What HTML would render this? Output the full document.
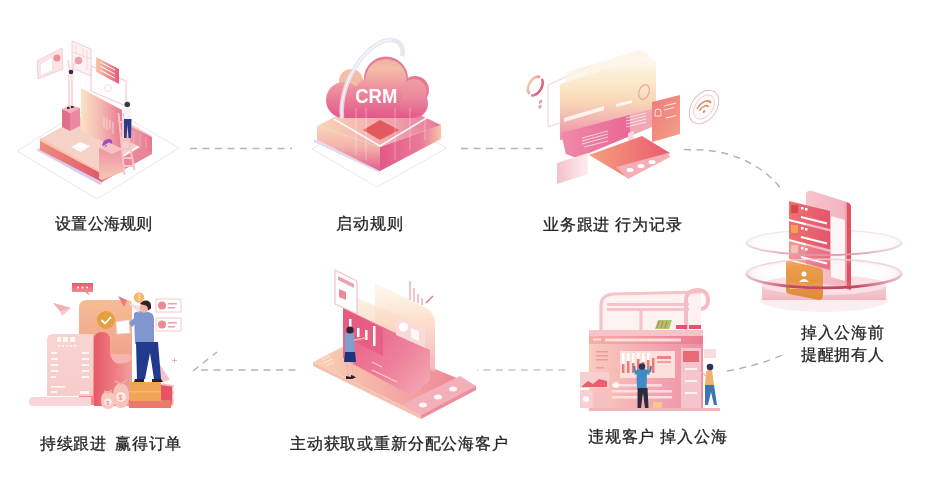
<!DOCTYPE html>
<html><head><meta charset="utf-8">
<style>
html,body{margin:0;padding:0;background:#fff;}
body{width:939px;height:502px;position:relative;overflow:hidden;font-family:"Liberation Sans",sans-serif;}
svg{position:absolute;left:0;top:0;filter:blur(0.45px);}
.t{position:absolute;font-size:16px;line-height:21.8px;color:#222;white-space:nowrap;letter-spacing:0.7px;-webkit-text-stroke:0.3px #222;opacity:0.99;}
</style></head><body>
<svg width="939" height="502" viewBox="0 0 939 502">
<defs>
<linearGradient id="pk1" x1="0" y1="0" x2="1" y2="0"><stop offset="0" stop-color="#fbe3c6"/><stop offset="0.5" stop-color="#f3b6b0"/><stop offset="1" stop-color="#e87890"/></linearGradient>
<linearGradient id="pk2" x1="0" y1="0" x2="1" y2="0"><stop offset="0" stop-color="#f7c9a6"/><stop offset="1" stop-color="#e65a7c"/></linearGradient>
<linearGradient id="red1" x1="0" y1="0" x2="1" y2="0"><stop offset="0" stop-color="#ee8a7c"/><stop offset="1" stop-color="#e0586a"/></linearGradient>
<linearGradient id="pkv" x1="0" y1="0" x2="0" y2="1"><stop offset="0" stop-color="#ec8aa2"/><stop offset="1" stop-color="#f8c8b4"/></linearGradient>
<linearGradient id="wall1" x1="0" y1="0" x2="1" y2="0"><stop offset="0" stop-color="#f0a0ae"/><stop offset="1" stop-color="#e87890"/></linearGradient>
<linearGradient id="cl" gradientUnits="userSpaceOnUse" x1="0" y1="56" x2="0" y2="118"><stop offset="0" stop-color="#f0a6a2"/><stop offset="0.2" stop-color="#f5bea8"/><stop offset="0.55" stop-color="#ee8c9c"/><stop offset="1" stop-color="#e3588a"/></linearGradient>
<linearGradient id="clr" gradientUnits="userSpaceOnUse" x1="0" y1="76" x2="0" y2="118"><stop offset="0" stop-color="#f0a0a4"/><stop offset="0.5" stop-color="#ec8a9e"/><stop offset="1" stop-color="#e3588a"/></linearGradient>
<linearGradient id="pt2" x1="0" y1="0" x2="1" y2="0"><stop offset="0" stop-color="#f9d6b6"/><stop offset="0.5" stop-color="#f2aeb0"/><stop offset="1" stop-color="#e9789a"/></linearGradient>
<linearGradient id="ps2" x1="0" y1="0" x2="0" y2="1"><stop offset="0" stop-color="#f8d4b8"/><stop offset="0.45" stop-color="#f3b4ac"/><stop offset="1" stop-color="#e45e8a"/></linearGradient>
<linearGradient id="pr2" x1="0" y1="0" x2="1" y2="0"><stop offset="0" stop-color="#e25887"/><stop offset="0.7" stop-color="#ea7c98"/><stop offset="1" stop-color="#f6c4a8"/></linearGradient>
<linearGradient id="sc3" gradientUnits="userSpaceOnUse" x1="0" y1="55" x2="0" y2="150"><stop offset="0" stop-color="#fefaf4"/><stop offset="0.3" stop-color="#fbe8c8"/><stop offset="0.5" stop-color="#f8d6b6"/><stop offset="0.72" stop-color="#f2aeb0"/><stop offset="1" stop-color="#ea7a9a"/></linearGradient>
<linearGradient id="bd3" x1="0" y1="0" x2="1" y2="0"><stop offset="0" stop-color="#f08aa8"/><stop offset="1" stop-color="#e86896"/></linearGradient>
<linearGradient id="kb3" x1="0" y1="0" x2="1" y2="0"><stop offset="0" stop-color="#f4a080"/><stop offset="1" stop-color="#ea5a6e"/></linearGradient>
<linearGradient id="cd3" x1="0" y1="0" x2="1" y2="1"><stop offset="0" stop-color="#f07a78"/><stop offset="1" stop-color="#f4a088"/></linearGradient>
<linearGradient id="sp3" x1="0" y1="0" x2="1" y2="0"><stop offset="0" stop-color="#f4c0cc"/><stop offset="1" stop-color="#fdeef0"/></linearGradient>
<linearGradient id="ph4" x1="0" y1="0" x2="1" y2="0"><stop offset="0" stop-color="#f6c4cc"/><stop offset="0.85" stop-color="#f2b4c0"/><stop offset="1" stop-color="#e2566a"/></linearGradient>
<linearGradient id="cd4" x1="0" y1="0" x2="1" y2="0"><stop offset="0" stop-color="#ee7070"/><stop offset="1" stop-color="#e4566e"/></linearGradient>
<linearGradient id="or4" x1="0" y1="0" x2="0" y2="1"><stop offset="0" stop-color="#eda050"/><stop offset="1" stop-color="#e08a3a"/></linearGradient>
<linearGradient id="bs4" x1="0" y1="0" x2="0" y2="1"><stop offset="0" stop-color="#f7d2d6"/><stop offset="1" stop-color="#f0b8c0"/></linearGradient>
<radialGradient id="rg4" cx="0.5" cy="0.5" r="0.5"><stop offset="0.6" stop-color="#fff" stop-opacity="0"/><stop offset="0.92" stop-color="#f3c4cc" stop-opacity="0.6"/><stop offset="1" stop-color="#e2788c"/></radialGradient>
<linearGradient id="ph5" x1="0" y1="0" x2="0" y2="1"><stop offset="0" stop-color="#f5bc94"/><stop offset="0.5" stop-color="#f2a48c"/><stop offset="1" stop-color="#ee8a8c"/></linearGradient>
<linearGradient id="rs5" x1="0" y1="0" x2="1" y2="0"><stop offset="0" stop-color="#e65a68"/><stop offset="0.5" stop-color="#ee7a80"/><stop offset="1" stop-color="#f0a0a0"/></linearGradient>
<linearGradient id="rc5" x1="0" y1="0" x2="0" y2="1"><stop offset="0" stop-color="#f8d4d0"/><stop offset="1" stop-color="#f6ccca"/></linearGradient>
<linearGradient id="cb5" x1="0" y1="0" x2="0" y2="1"><stop offset="0" stop-color="#e85a6c"/><stop offset="1" stop-color="#f4a0a8"/></linearGradient>
<linearGradient id="tb6" x1="0" y1="0" x2="1" y2="0"><stop offset="0" stop-color="#f9d2b4"/><stop offset="0.5" stop-color="#f4aaa4"/><stop offset="1" stop-color="#ec7c8e"/></linearGradient>
<linearGradient id="fp6" gradientUnits="userSpaceOnUse" x1="0" y1="280" x2="0" y2="360"><stop offset="0" stop-color="#fdf2e4" stop-opacity="0.6"/><stop offset="0.5" stop-color="#fbdcc4"/><stop offset="1" stop-color="#f4b4b4"/></linearGradient>
<linearGradient id="ps6" gradientUnits="userSpaceOnUse" x1="342" y1="310" x2="430" y2="390"><stop offset="0" stop-color="#e65880"/><stop offset="0.6" stop-color="#ee7e98"/><stop offset="1" stop-color="#f4aab4"/></linearGradient>
<linearGradient id="bd7" x1="0" y1="0" x2="1" y2="0"><stop offset="0" stop-color="#f8ccbc"/><stop offset="0.5" stop-color="#f4aab4"/><stop offset="1" stop-color="#ee90a4"/></linearGradient>
<linearGradient id="hd7" x1="0" y1="0" x2="1" y2="0"><stop offset="0" stop-color="#f6b0a8"/><stop offset="1" stop-color="#ec7c96"/></linearGradient>
<linearGradient id="rgI3" x1="0" y1="0" x2="1" y2="0"><stop offset="0" stop-color="#f2c6a4"/><stop offset="0.55" stop-color="#e48a98"/><stop offset="1" stop-color="#d65a80"/></linearGradient>
<linearGradient id="rs4u" x1="0" y1="0" x2="1" y2="0"><stop offset="0" stop-color="#e8dde2"/><stop offset="0.35" stop-color="#dc9aaa"/><stop offset="0.65" stop-color="#dc9aaa"/><stop offset="1" stop-color="#e8dde2"/></linearGradient>
<linearGradient id="rs4l" x1="0" y1="0" x2="1" y2="0"><stop offset="0" stop-color="#e6c8d0"/><stop offset="0.3" stop-color="#c44664"/><stop offset="0.7" stop-color="#c44664"/><stop offset="1" stop-color="#e6c8d0"/></linearGradient>
</defs>
<g fill="none" stroke="#b4b4b4" stroke-width="1.5" stroke-dasharray="7 5.5">
<path d="M190 148.5H292"/>
<path d="M461 148.5H545"/>

<path d="M201 370H296"/>
<path d="M193 371L217 352"/>
<path d="M477 370H566" stroke="#c6c6c6" stroke-dashoffset="6.1"/>
<path d="M684 149.5 L702 150 C728 151 762 163 781 189"/>
<path d="M727 371 C745 368 768 362 784 354"/>
</g>
<g id="i1">
<polygon points="17,151 98,101 179,148 97,199" fill="#fff" stroke="#eee4e8" stroke-width="1"/>
<polygon points="36,150 100,185 104,181 40,148" fill="#d9ccef"/>
<polygon points="40,139 100,106 152,136 101,170" fill="#f5d2c8"/>
<polygon points="40,140 102,173 102,182 40,150" fill="url(#red1)"/>
<polygon points="40,138 102,171 102,174 40,141" fill="#f8c4aa"/>
<polygon points="101,170 152,140 152,154 102,182" fill="#e9869a"/>
<polygon points="126,124 152,137 152,153 126,140" fill="url(#wall1)"/>
<g stroke="#f6b8c4" stroke-width="0.8" opacity="0.8"><path d="M134 131v12M140 134v12M146 137v11"/></g>
<polygon points="71,147 80,142 90,146 81,152" fill="#fff" opacity="0.9"/>
<polygon points="81,88 122,110 122,152 81,130" fill="url(#pk1)"/>
<g stroke="#fff" stroke-width="0.8" opacity="0.7"><path d="M104 117v10M107 118v12M110 120v9M113 122v12"/></g>
<polygon points="99,148 110,143 123,149 123,172 101,180 99,178" fill="url(#pkv)"/>
<polygon points="99,148 110,143 123,149 112,154" fill="#f6c2c4"/>
<path d="M102 145q2 -7 8 -6q3 1 2 5l-4 -1l-2 4z" fill="#a24cb8"/><path d="M104 146l5 -3l4 2" stroke="#f2c4cc" stroke-width="1" fill="none"/>
<polygon points="62,109 71,105 80,108 70,113" fill="#f4b0bc"/>
<polygon points="62,109 70,113 70,131 62,127" fill="#e26f8a"/>
<polygon points="70,113 80,108 80,126 70,131" fill="#ea8aa0"/>
<rect x="67" y="107" width="2.5" height="2" fill="#3a2a3a"/><rect x="71" y="106" width="2.5" height="2" fill="#3a2a3a"/>
<polygon points="91,66 126,81 126,106 91,91" fill="#fff" stroke="#f2c2c8" stroke-width="1"/>
<circle cx="108" cy="88" r="3.5" fill="none" stroke="#f4d0d4" stroke-width="0.8"/>
<polygon points="96,57 119,69 119,84 96,72" fill="url(#pk2)"/>
<g stroke="#fff" stroke-width="1"><path d="M100 62l15 8M100 66l15 8M100 70l15 8"/></g>
<polygon points="37,61 62,48 63,69 38,79" fill="#fbe4e4" stroke="#f4c6cc" stroke-width="0.8"/>
<polygon points="41,64 52,58 52,70 41,75" fill="#fff"/>
<circle cx="57" cy="58" r="3.5" fill="#ef8e98"/>
<polygon points="72,41 91,49 91,76 72,68" fill="#fdf2f2" stroke="#f3c2c8" stroke-width="0.8"/>
<circle cx="78.5" cy="60.5" r="3.8" fill="#f0a0aa"/><g stroke="#f6cdd2" stroke-width="0.8"><path d="M76 45v9M83 48v10M87 50v20M73 52l18 7"/></g>
<g stroke="#f6d2d4" stroke-width="1.6" fill="none"><path d="M68 60l2 14M74 63l-2 11"/><path d="M69 80v26M72 80v26"/></g>
<rect x="67.5" y="74" width="6" height="8" rx="2" fill="#fbe6e6"/>
<circle cx="71" cy="72" r="2.3" fill="#3b2b45"/>
<g stroke="#f6c4c8" stroke-width="2" fill="none"><path d="M118.5 113l6 62M123.5 113l11 57"/><path d="M119.5 122h6M120.5 131h7M121.5 140h8M122.5 149h8.5M123.5 158h9M124 166h9.5"/></g>
<circle cx="127.3" cy="104.5" r="2.8" fill="#3b3550"/>
<rect x="124" y="107.5" width="7.5" height="11.5" rx="1.5" fill="#f6f2f8"/>
<path d="M124 119h7.5l-0.5 19h-2.5l-1 -14l-1 14h-2.5z" fill="#2c3a8c"/>
</g>
<g id="i2">
<polygon points="312,149 378,112 447,148 377,187" fill="#fff" stroke="#eee6ea" stroke-width="1"/>
<polygon points="314,139 380,170 380,173 314,142" fill="#e2d6f0"/>
<polygon points="317,126 380,147 380,171 317,140" fill="url(#ps2)"/>
<polygon points="380,147 441,125 441,139 380,171" fill="url(#pr2)"/>
<polygon points="317,126 378,95 441,125 380,147" fill="url(#pt2)"/>
<polyline points="334,119 380,146 428,117" fill="none" stroke="#fff" stroke-width="1.6" opacity="0.9"/>
<polygon points="363,130 380,120 399,130 380,140" fill="#e25a5e"/>
<g fill="#e6789a">
<circle cx="386" cy="78.5" r="22"/>
<circle cx="415" cy="90" r="14"/>
<circle cx="414" cy="104" r="14"/>
</g>
<g fill="url(#cl)">
<circle cx="351" cy="81" r="12" fill="#f4bea6"/>
<circle cx="386" cy="79.5" r="20.5"/>
<circle cx="366" cy="88" r="9"/>
<rect x="344" y="93" width="69" height="25"/>
<rect x="352" y="86" width="48" height="20"/>
<circle cx="344" cy="100" r="18"/>
<circle cx="414" cy="91.5" r="12.5" fill="url(#clr)"/>
<circle cx="413" cy="104" r="13.5" fill="url(#clr)"/>
</g>
<path d="M342 118 C338 80 370 38 392 40 C402 41 404 50 402 56" fill="none" stroke="#e6e2ee" stroke-width="4.5" opacity="0.85"/>
<path d="M342 118 C338 80 370 38 392 40" fill="none" stroke="#fff" stroke-width="1.5" opacity="0.6"/>
<text x="355.3" y="103.2" font-family="Liberation Sans" font-weight="bold" font-size="20.5" textLength="42" lengthAdjust="spacingAndGlyphs" fill="#fff">CRM</text>
<g stroke="#fff" stroke-width="0.8" opacity="0.45"><path d="M356 108v47M366 108v52M395 108v52M410 108v42M425 112v28"/></g>
</g>
<g id="i3">
<ellipse cx="535.3" cy="86" rx="6.4" ry="10" transform="rotate(28 535.3 86)" fill="none" stroke="url(#rgI3)" stroke-width="2.6" stroke-dasharray="12.2 2.2 24.4 2.2 12.2"/>
<path d="M539.5 101l2 -1v2.5l-2 1zM539 106l2 -1v2.5l-2 1z" fill="#d8a4ac" stroke="#d8a4ac" stroke-width="1"/>
<polygon points="548,85 590,66 590,112 548,127" fill="#fff" stroke="#f3cdd2" stroke-width="1"/>
<polygon points="566,72 640,50 648,54 648,70 566,92" fill="#fdf2e4" opacity="0.8"/>
<polygon points="560,84 648,56 656,62 656,124 560,140" fill="url(#sc3)"/>
<polygon points="564,118 604,106 604,110 564,122" fill="#fff" opacity="0.8"/>
<polygon points="616,104 632,100 632,103 616,107" fill="#fff" opacity="0.8"/>
<ellipse cx="644" cy="92" rx="5" ry="7.5" transform="rotate(20 644 92)" fill="none" stroke="#eeaaa4" stroke-width="1.3"/>
<polygon points="561,133 652,109 652,127 577,158 566,154" fill="#f2a8b4"/>
<polygon points="561,133 630,115 630,136 577,158 566,154" fill="url(#bd3)"/>
<g stroke="#fff" stroke-width="0.9" opacity="0.75"><path d="M582 138l26-7M582 141l26-7M582 144l26-7M584 147l24-6"/><path d="M626 118l20-5M626 121l20-5M626 124l20-5M626 127l20-5"/></g>
<polygon points="628,133 634,131 634,140 628,142" fill="#f8d8dc"/>
<polygon points="557,163 588,153 588,174 557,184" fill="url(#sp3)"/>
<polygon points="589,155 642,136 670,153 626,177" fill="url(#kb3)"/>
<polygon points="616,167 668,153 670,157 628,179" fill="#f5aeb6"/>
<g fill="#fff"><ellipse cx="630" cy="170" rx="3.5" ry="2"/><ellipse cx="641" cy="166" rx="3.5" ry="2"/><ellipse cx="652" cy="162" rx="3.5" ry="2"/></g>
<polygon points="652,102 680,95 680,134 652,142" fill="url(#cd3)"/>
<path d="M655 112a3 3 0 0 1 6 0v4h-6z" fill="none" stroke="#fff" stroke-width="1" opacity="0.8"/>
<g stroke="#fff" stroke-width="1.2" opacity="0.8"><path d="M664 106l12-3M664 110l10-2.5M666 118l10-2.5"/></g>
<g transform="rotate(-55 704 107)">
<ellipse cx="704" cy="107" rx="18.5" ry="12.5" fill="none" stroke="#e4bcbc" stroke-width="1"/>
<ellipse cx="704" cy="107" rx="13.5" ry="8.8" fill="#fffafa" stroke="#ecc8c8" stroke-width="0.8"/>
</g>
<g transform="translate(704 107) skewY(-25) translate(-704 -107)">
<path d="M697 106a8 8 0 0 1 14 0M699.5 109a5 5 0 0 1 9 0" fill="none" stroke="#d88a6e" stroke-width="1.6"/>
<circle cx="704" cy="111.5" r="1.3" fill="#d88a6e"/>
</g>
</g>
<g id="i4">
<ellipse cx="824" cy="300" rx="64" ry="12" fill="#fbeef0"/>
<rect x="762" y="285" width="124" height="15" fill="url(#bs4)"/>
<ellipse cx="824" cy="285" rx="62" ry="10" fill="#f9e0e3"/>
<ellipse cx="824" cy="242.5" rx="77.5" ry="12.7" fill="url(#rg4)" opacity="0.15"/>
<path d="M746.5 242.5a77.5 12.7 0 0 1 155 0" fill="none" stroke="#f2e2e6" stroke-width="1"/>
<path d="M806 193q2 -3 6 -2l35 11q4 1 4 5v82l-45 -8z" fill="url(#ph4)"/>
<path d="M847 203q4 1 4 5v82l-4 -1z" fill="#e0505e"/>
<polygon points="831,216 845,220 845,281 831,277" fill="#fff" opacity="0.85"/>
<polygon points="789,201 830,211 830,229 789,219" fill="url(#cd4)"/>
<polygon points="789,221 830,231.5 830,249.5 789,239" fill="url(#cd4)"/>
<polygon points="789,241 830,252 830,270 789,259" fill="url(#cd4)" opacity="0.75"/>
<rect x="791" y="205" width="7" height="8" fill="#d84848"/><rect x="791" y="225" width="7" height="8" fill="#f0a050"/><rect x="791" y="245" width="7" height="8" fill="#f6c0b8"/>
<g stroke="#fff" stroke-width="2"><path d="M801 217l26 6.5M801 237l26 6.5M801 257l26 6.5"/></g>
<g fill="#fff"><rect x="801" y="207" width="2.5" height="2.5"/><rect x="805" y="208" width="2.5" height="2.5"/><rect x="801" y="227" width="2.5" height="2.5"/><rect x="805" y="228" width="2.5" height="2.5"/><rect x="801" y="247" width="2.5" height="2.5"/><rect x="805" y="248" width="2.5" height="2.5"/></g>
<path d="M746.5 242.5a77.5 12.7 0 0 0 155 0" fill="none" stroke="url(#rs4u)" stroke-width="1.8"/>
<path d="M786 263 q0 -3 4 -2 l30 7 q3 1 3 4 v22 q0 6 -4 6 l-30 -6 q-3 -1 -3 -4z" fill="url(#or4)"/>
<circle cx="804" cy="274" r="2.5" fill="#fff"/><path d="M799 282q5 -6 10 0z" fill="#fff"/>
<rect x="790" y="286" width="22" height="3" fill="#fbd7b0" opacity="0.8"/>
<ellipse cx="824" cy="273.5" rx="77.5" ry="14.3" fill="url(#rg4)" opacity="0.25"/>
<path d="M746.5 273.5a77.5 14.3 0 0 0 155 0" fill="none" stroke="url(#rs4l)" stroke-width="2.7"/>
<path d="M746.5 273.5a77.5 14.3 0 0 1 155 0" fill="none" stroke="#eed2d8" stroke-width="1.2"/>
</g>
<g id="i5">
<path d="M72 283h21v9h-5l2 4l-5 -4h-13z" fill="url(#cb5)"/>
<g fill="#fff"><circle cx="78" cy="287.5" r="1"/><circle cx="82.5" cy="287.5" r="1"/><circle cx="87" cy="287.5" r="1"/></g>
<path d="M53 303l18 5l-9 8l-2 -5z" fill="#f6c8cc"/>
<path d="M53 303l7 8l11 -3z" fill="#f0b0b8"/>
<path d="M87 300h40q5 0 5 5v100h-53v-97q0 -8 8 -8z" fill="url(#ph5)"/>
<circle cx="106" cy="320" r="9" fill="#e4a03c"/>
<path d="M101.5 320l3.5 3.5l6 -6.5" fill="none" stroke="#fff" stroke-width="1.8"/>
<path d="M94 340q0 -8 8 -8q8 0 8 8v14h18q4 0 4 5v47h-38z" fill="url(#rs5)"/>
<path d="M110 354h18q4 0 4 5q-6 6 -16 4q-4 -2 -6 -9z" fill="#f6b4b0"/>
<path d="M47 340q0 -6 6 -6h40v62h-46z" fill="url(#rc5)"/>
<g fill="#fff" opacity="0.85"><rect x="57" y="337" width="4" height="5"/><rect x="63" y="337" width="5" height="5"/><rect x="70" y="337" width="5" height="5"/><rect x="58" y="345" width="2" height="1.5"/><rect x="62" y="345" width="2" height="1.5"/><rect x="66" y="345" width="2" height="1.5"/><rect x="70" y="345" width="2" height="1.5"/><rect x="74" y="345" width="2" height="1.5"/><rect x="51" y="352" width="6" height="2"/><rect x="82" y="352" width="7" height="2"/><rect x="51" y="358" width="7" height="2"/><rect x="82" y="358" width="7" height="2"/><rect x="51" y="364" width="7" height="2"/><rect x="82" y="364" width="7" height="2"/><rect x="51" y="370" width="7" height="2"/><rect x="82" y="370" width="7" height="2"/><rect x="51" y="376" width="5" height="2"/><rect x="82" y="376" width="7" height="2"/><rect x="51" y="386" width="14" height="1.5"/><rect x="51" y="391" width="6" height="2"/><rect x="80" y="391" width="9" height="3"/></g>
<path d="M33 397h58v9h-58q-4 0 -4 -4.5q0 -4.5 4 -4.5z" fill="#f8d6d6"/>
<path d="M152 352l18 28l-13 3z" fill="#f6c4c8"/>
<path d="M158 383l16 2l-1 4l1 4l-1 4l1 4l-1 5l-15 -2z" fill="#f4c0c6"/>
<path d="M160 385l12 1.5v18l-12 -1.5z" fill="#e65466"/>
<rect x="129" y="400" width="42" height="8" fill="#ec7a6c"/>
<rect x="130" y="382" width="31" height="19" fill="#f0a456"/>
<rect x="130" y="391" width="31" height="1.5" fill="#f6bc78" opacity="0.8"/>
<path d="M101 400q0 -8 7 -9q7 1 7 9q0 9 -7 9q-7 0 -7 -9z" fill="#f7cac0"/>
<path d="M104 391l4 2l4 -3" stroke="#f2b0a8" stroke-width="1.5" fill="none"/>
<path d="M113 396q0 -12 8 -13q8 1 8 13q0 12 -8 12q-8 0 -8 -12z" fill="#f6c2ba"/>
<path d="M115 381l6 3l6 -4" stroke="#f0aaa2" stroke-width="1.6" fill="none"/>
<circle cx="121" cy="397" r="5" fill="#fde8e6"/><text x="118.6" y="400" font-family="Liberation Sans" font-size="7" fill="#e27888">$</text>
<circle cx="108" cy="402" r="3.8" fill="#fde8e6"/><text x="106.2" y="404.5" font-family="Liberation Sans" font-size="5.5" fill="#e27888">$</text>
<path d="M134 313q5 -3 11 -2l6 2q3 2 3 6v25h-19z" fill="#8096cf"/>
<path d="M136 342h22l3 37h-7l-4 -26l-5 26h-8z" fill="#213a8e"/>
<path d="M135 379h9v3h-10zM152 379h9l2 3h-11z" fill="#2a1f2e"/>
<circle cx="144" cy="308" r="4.8" fill="#f2b4a4"/>
<path d="M140 304q2 -4 7 -3.5q5 1 4 8l-3 2q0 -4 -2 -5q-3 -1 -6 -1.5z" fill="#3a2222"/>
<path d="M128 303l12 3l-1 7z" fill="#f6dede"/><path d="M118 296l9 4l-3 7z" fill="#ea7a8c"/>

<circle cx="139" cy="297.5" r="5.2" fill="#f4b870"/><path d="M138 295h2.5M138 297.5h2.5M138 300h2.5" stroke="#fff" stroke-width="0.8"/>
<polygon points="116,322 129,320 130,333 117,334" fill="#fff" stroke="#f2d8d8" stroke-width="0.6"/>
<path d="M129 323l6 -6l3 4l-6 6z" fill="#7f96d4"/>
<g><rect x="156" y="299" width="25" height="13" fill="#fff" stroke="#f4c8cc" stroke-width="1"/><circle cx="162" cy="305.5" r="4" fill="#f08892"/><rect x="168" y="303" width="9" height="1.5" fill="#f2a0a8"/><rect x="168" y="307" width="7" height="1.5" fill="#f2a0a8"/></g>
<g><rect x="156" y="318" width="25" height="13" fill="#fff" stroke="#f4c8cc" stroke-width="1"/><circle cx="162" cy="324.5" r="4" fill="#f08892"/><rect x="168" y="322" width="9" height="1.5" fill="#f2a0a8"/><rect x="168" y="326" width="7" height="1.5" fill="#f2a0a8"/></g>
<path d="M174.5 358v5M172 360.5h5" stroke="#e8a0b0" stroke-width="0.8"/>
</g>
<g id="i6">
<polygon points="313,362 360,338 476,386 421,415" fill="url(#tb6)"/>
<polygon points="313,362 421,415 421,419 313,366" fill="#f6c0b0"/>
<polygon points="421,415 476,386 476,390 421,419" fill="#ee8c9a"/>
<polygon points="401,405 460,376 476,386 421,415" fill="#f4b0b8"/>
<g fill="#fff" opacity="0.9"><ellipse cx="423" cy="405" rx="4" ry="2.5"/><ellipse cx="438" cy="397" rx="4" ry="2.5"/><ellipse cx="453" cy="389" rx="4" ry="2.5"/></g>
<g stroke="#fff" stroke-width="1" opacity="0.6"><path d="M322 360l8 -4M324 363l8 -4M326 366l8 -4"/></g>
<polygon points="375,283 430,310 435,320 435,372 375,345" fill="url(#fp6)" opacity="0.85"/>
<polygon points="352,296 410,320 410,368 352,342" fill="url(#fp6)" opacity="0.8"/>
<polygon points="343,308 385,328 430,350 430,380 412,396 353,364 343,358" fill="url(#ps6)"/>
<polygon points="345,310 383,329 383,356 345,337" fill="#e45a80" opacity="0.7"/>
<g fill="#fff"><rect x="349" y="319" width="2.5" height="9"/><rect x="357" y="328" width="2.5" height="9"/><rect x="365" y="330" width="2.5" height="10"/><rect x="373" y="326" width="2.5" height="20"/></g>
<g stroke="#fff" stroke-width="1" opacity="0.7"><path d="M372 362l10 5M372 370l25 12"/></g>
<polygon points="396,316 425,329 425,348 396,335" fill="#f9dcdc" opacity="0.9"/>
<circle cx="403.5" cy="327" r="4.5" fill="#fff"/><polygon points="411,328 419,331.5 419,341 411,337.5" fill="#fff" opacity="0.85"/>
<polygon points="335,270 357,281 357,314 335,304" fill="#fff" stroke="#f2b4c0" stroke-width="1"/>
<polygon points="338,276 354,284 354,288 338,280" fill="#f0a0b0"/>
<polygon points="339,289 346,292 346,300 339,297" fill="#ee8a9c"/>
<g stroke="#e88698" stroke-width="1"><path d="M410 281v19M414 288v14M418 294v9M422 298v7"/><path d="M426 303l7 -7" stroke="#ee7890" stroke-width="1.6"/></g>
<path d="M345 335q2 -4 6 -3l3 2l1 18h-10z" fill="#7f9ed0"/>
<path d="M354 340l12 -2" stroke="#f2b4a4" stroke-width="1.5"/>
<path d="M345 352h10l1 10h-12z" fill="#1f3377"/>
<path d="M347 362l1 14M352 362l1 14" stroke="#f2b4a4" stroke-width="1.6"/>
<path d="M346 376l5 1l3 2h-8zM351 375l3 1l2 2h-5z" fill="#2a2234"/>
<circle cx="350" cy="330" r="3.6" fill="#2b2438"/>
</g>
<g id="i7">
<path d="M601 330V306q0 -11 12 -12l88 -2v38z" fill="#fdf1f2"/>
<g fill="none" stroke="#f5c4ca" stroke-width="3.2">
<path d="M601 330V306q0 -11 12 -12l88 -2"/>
<path d="M607 304.5h82M607 309.5h82"/>
<path d="M641 311v19"/>
</g>
<path d="M686 330V300q0 -9 11 -10q11 0 11 10q0 8 -7 9" fill="none" stroke="#f4bcc4" stroke-width="4"/>
<polygon points="658,320 672,320 669,329 655,329" fill="#a8c86a"/>
<path d="M659 321l-2 7M663 321l-2 7M667 321l-2 7" stroke="#e86068" stroke-width="1"/>
<rect x="676" y="325" width="11" height="4" fill="#e0566a"/><rect x="689" y="325" width="12" height="4" fill="#e0566a"/>
<rect x="589" y="330" width="114" height="80" fill="url(#bd7)"/>
<rect x="589" y="330" width="114" height="6" fill="#f6c4c8"/>
<rect x="589" y="336" width="114" height="8" fill="url(#hd7)"/>
<rect x="605" y="338.5" width="76" height="3" fill="#fde6e0" opacity="0.9"/>
<rect x="593" y="338.5" width="8" height="2" fill="#fde6e0" opacity="0.9"/>
<g fill="#f08a8c" opacity="0.7"><rect x="596" y="351" width="12" height="1.5"/><rect x="596" y="355" width="12" height="1.5"/><rect x="596" y="359" width="12" height="1.5"/><rect x="596" y="367" width="8" height="1.5"/></g>
<rect x="620" y="351" width="55" height="27" fill="#fbe0dc"/>
<g fill="#fff"><rect x="622" y="353" width="2.5" height="16"/><rect x="627" y="353" width="2.5" height="16"/><rect x="632" y="353" width="2.5" height="16"/><rect x="637" y="353" width="2.5" height="16"/><rect x="642" y="353" width="2.5" height="16"/><rect x="647" y="353" width="2.5" height="16"/></g>
<g fill="#ee7a6e"><rect x="622" y="364" width="2.5" height="9"/><rect x="627" y="361" width="2.5" height="12"/><rect x="632" y="363" width="2.5" height="10"/><rect x="637" y="359" width="2.5" height="14"/><rect x="642" y="362" width="2.5" height="11"/><rect x="647" y="360" width="2.5" height="13"/><rect x="652" y="358" width="2.5" height="15"/></g>
<rect x="657" y="356" width="14" height="3" fill="#ec8088"/><rect x="657" y="361" width="14" height="2" fill="#f0a0a4"/>
<g fill="#fde6e6" opacity="0.9"><rect x="612" y="384" width="50" height="2.5"/><rect x="612" y="390" width="60" height="2.5"/><rect x="612" y="396" width="60" height="2.5"/></g>
<circle cx="616" cy="385" r="3" fill="#fff" opacity="0.8"/>
<rect x="681" y="348" width="20" height="60" fill="#f6c4cc"/>
<rect x="683" y="351" width="16" height="11" fill="#e86a76"/>
<g fill="#fff" opacity="0.8"><rect x="685" y="368" width="12" height="2"/><rect x="685" y="380" width="12" height="2"/><rect x="685" y="392" width="12" height="2"/></g>
<rect x="580" y="372" width="29" height="16" fill="#f8cfd0"/>
<path d="M582 386l6 -5l5 3l6 -5l8 2v6h-25z" fill="#e8606c"/>
<rect x="580" y="390" width="12" height="18" fill="#f8d0d4"/><circle cx="586" cy="399" r="3" fill="#fff"/>
<rect x="594" y="392" width="14" height="16" fill="#f4c0c4"/>
<rect x="653" y="402" width="9" height="7" fill="#f6c890"/>
<rect x="704" y="349" width="12" height="9" fill="#fbdcdc"/>
<rect x="589" y="408" width="131" height="3" fill="#f2b4bc"/>
<path d="M635 372q1 -3 7 -3q7 0 8 3l-1 3l-2 -1l-0.5 14h-9.5l-0.5 -14l-2 1z" fill="#3e8cc4"/><path d="M635 372l-1 -6M650 372l1 -6" stroke="#3e8cc4" stroke-width="2.2"/>
<path d="M637.5 388h10l1 20h-3.5l-2 -15l-2 15h-3.5z" fill="#2c2c3c"/>
<circle cx="642" cy="366.5" r="3.3" fill="#2c3458"/>
<path d="M706 372q2 -3 6 -2l2 15h-9z" fill="#f2b070"/>
<path d="M705 385h9l3 20h-3l-3 -13l-3 13h-3z" fill="#3c74b4"/>
<circle cx="710" cy="367" r="3.3" fill="#2c3160"/>
<path d="M706 376l-7 -6" stroke="#f2b4a4" stroke-width="1.4"/>
</g>
</svg>
<div class="t" style="left:55px;top:213px;letter-spacing:0.3px">设置公海规则</div>
<div class="t" style="left:336px;top:213px;letter-spacing:0.9px">启动规则</div>
<div class="t" style="left:543px;top:214px;letter-spacing:0.8px">业务跟进 行为记录</div>
<div class="t" style="left:801px;top:322px">掉入公海前<br>提醒拥有人</div>
<div class="t" style="left:40px;top:433px;word-spacing:3.4px">持续跟进 赢得订单</div>
<div class="t" style="left:290px;top:433px;letter-spacing:0.82px">主动获取或重新分配公海客户</div>
<div class="t" style="left:588px;top:426px;letter-spacing:0.8px">违规客户 掉入公海</div>
</body></html>
